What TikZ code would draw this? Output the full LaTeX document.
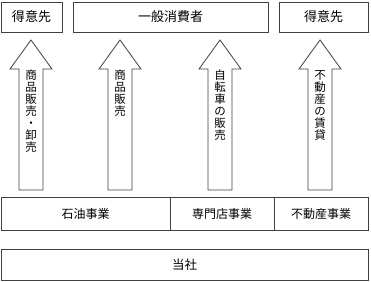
\documentclass[tikz,border=0pt]{standalone}
\usepackage{fontspec}
\newfontfamily\jp{Noto Sans CJK JP}
\begin{document}
\begin{tikzpicture}[x=1pt,y=-1pt,
  box/.style={draw=black!75,line width=0.8pt},
  lbl/.style={font=\jp\fontsize{13}{13}\selectfont,inner sep=0pt},
  vlbl/.style={font=\jp\fontsize{11.5}{12}\selectfont,inner sep=0pt,align=center,anchor=north},
  arr/.style={draw=black!75,line width=0.8pt,fill=white}]
\useasboundingbox (0,0) rectangle (371,281);
% top boxes
\draw[box] (1,2) rectangle (62,32);
\node[lbl] (t1) at (31.5,17) {得意先};
\draw[box] (73,2) rectangle (268,32);
\node[lbl] (t2) at (170.5,17) {一般消費者};
\draw[box] (279,2) rectangle (368,32);
\node[lbl] (t3) at (323.5,17) {得意先};
% arrows
\foreach \c/\n in {31/a1,120/a2,220/a3,320/a4}{
  \draw[arr] (\c,40) -- (\c+21,69) -- (\c+12,69) -- (\c+12,190) -- (\c-12,190) -- (\c-12,69) -- (\c-21,69) -- cycle;
}
\node[vlbl] (v1) at (31,70) {商\\品\\販\\売\\・\\卸\\売};
\node[vlbl] (v2) at (120,70) {商\\品\\販\\売};
\node[vlbl] (v3) at (220,70) {自\\転\\車\\の\\販\\売};
\node[vlbl] (v4) at (320,70) {不\\動\\産\\の\\賃\\貸};
% middle boxes
\draw[box] (1,197) rectangle (368,230);
\draw[box] (170,197) -- (170,230);
\draw[box] (274,197) -- (274,230);
\node[lbl,font=\jp\fontsize{12}{12}\selectfont] (m1) at (85.5,213.5) {石油事業};
\node[lbl,font=\jp\fontsize{12}{12}\selectfont] (m2) at (222,213.5) {専門店事業};
\node[lbl,font=\jp\fontsize{12}{12}\selectfont] (m3) at (321,213.5) {不動産事業};
% bottom box
\draw[box] (1,249) rectangle (368,280);
\node[lbl,font=\jp\fontsize{12.5}{12}\selectfont] (b) at (184.5,264.5) {当社};
\end{tikzpicture}
\end{document}
